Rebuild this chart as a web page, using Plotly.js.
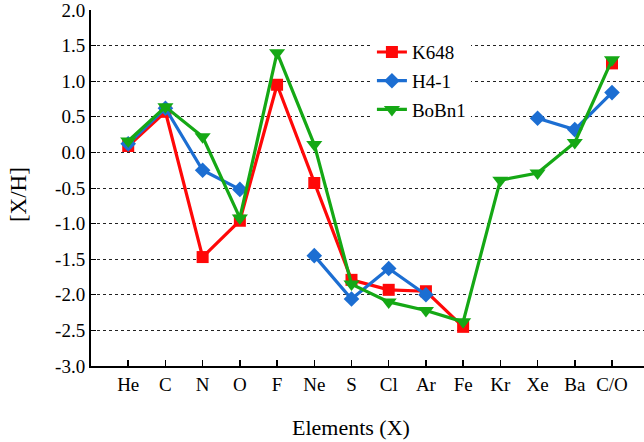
<!DOCTYPE html>
<html><head><meta charset="utf-8">
<script src="https://cdn.plot.ly/plotly-3.0.1.min.js"></script>
<style>html,body{margin:0;padding:0;background:#fff}#c{width:644px;height:442px}</style>
</head><body><div id="c"></div>
<script>
const elements = ['He','C','N','O','F','Ne','S','Cl','Ar','Fe','Kr','Xe','Ba','C/O'];
const k648  = [0.09, 0.57, -1.47, -0.96, 0.95, -0.43, -1.79, -1.93, -1.95, -2.45, null, null, null, 1.25];
const h41   = [0.12, 0.62, -0.25, -0.52, null, -1.45, -2.06, -1.63, -2.00, null, null, 0.48, 0.32, 0.84];
const bobn1 = [0.16, 0.64, 0.22, -0.92, 1.40, 0.11, -1.85, -2.10, -2.22, -2.38, -0.39, -0.29, 0.14, 1.30];
const yTickVals = [-3,-2.5,-2,-1.5,-1,-0.5,0,0.5,1,1.5,2];
const yTickText = ['-3.0','-2.5','-2.0','-1.5','-1.0','-0.5','0.0','0.5','1.0','1.5','2.0'];
const xTitle = 'Elements (X)';
const yTitle = '[X/H]';

const xIdx = elements.map((e,i)=>i);
const font = "'Liberation Serif', serif";
function tr(name, y, color, symbol, size, grp){
  return {x:xIdx, y:y, name:name, type:'scatter', mode:'lines+markers', connectgaps:false,
    legendgroup:grp, line:{color:color, width:3.2}, marker:{symbol:symbol, size:size, color:color}};
}
const data = [
  tr('K648', k648, '#ff0808', 'square', 12, 'a'),
  tr('H4-1', h41, '#1c6ed2', 'diamond', 12, 'b'),
  tr('BoBn1', bobn1, '#15a815', 'triangle-down', 14, 'c')
];
const layout = {
  width:644, height:442,
  margin:{l:91, r:0, t:10, b:76},
  paper_bgcolor:'#fff', plot_bgcolor:'#fff',
  font:{family:font, size:19, color:'#000'},
  showlegend:true,
  legend:{x:0.508, y:0.935, xanchor:'left', yanchor:'top', bgcolor:'#fff',
    font:{family:font, size:19, color:'#000'}, traceorder:'grouped', tracegroupgap:1, borderwidth:0},
  xaxis:{range:[-1, 13.86], tickvals:xIdx, ticktext:elements, ticks:'inside', ticklen:6, tickwidth:1.5,
    tickcolor:'#000', showline:true, linecolor:'#000', linewidth:2, showgrid:false, zeroline:false,
    tickfont:{family:font, size:19, color:'#000'}},
  yaxis:{range:[-3, 2], tickvals:yTickVals, ticktext:yTickText, ticks:'inside', ticklen:5, tickwidth:1,
    tickcolor:'#000', showline:true, linecolor:'#000', linewidth:2, showgrid:true, gridcolor:'#222',
    griddash:'dot', gridwidth:1, zeroline:false, ticklabeloverflow:'allow',
    tickfont:{family:font, size:19, color:'#000'}},
  annotations:[
    {text:xTitle, xref:'paper', yref:'paper', x:0.47, y:-0.174, xanchor:'center', yanchor:'middle',
      showarrow:false, font:{family:font, size:22, color:'#000'}},
    {text:yTitle, xref:'paper', yref:'paper', x:-0.132, y:0.48, xanchor:'center', yanchor:'middle',
      textangle:-90, showarrow:false, font:{family:font, size:23, color:'#000'}}
  ]
};
Plotly.newPlot('c', data, layout, {displayModeBar:false, staticPlot:true});
</script></body></html>
